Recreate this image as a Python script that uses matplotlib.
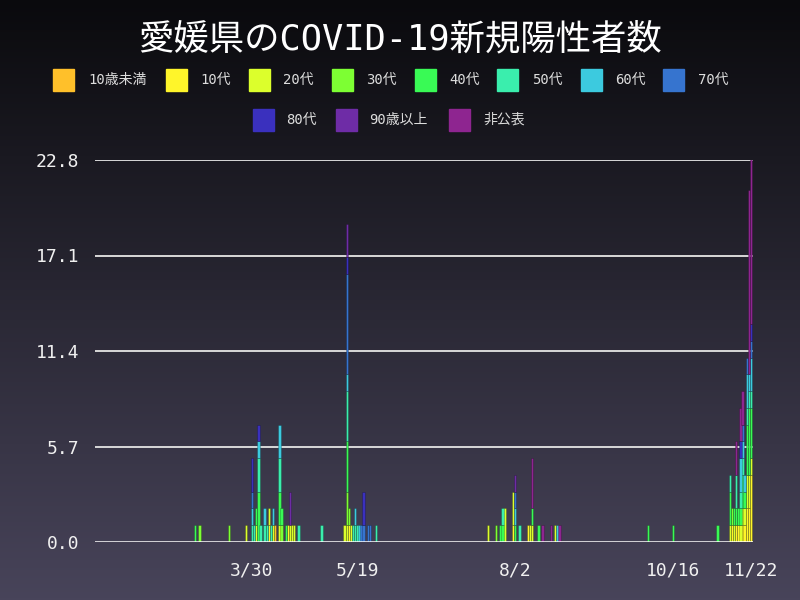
import numpy as np
import pandas as pd
import matplotlib
matplotlib.use('Agg')
import matplotlib.pyplot as plt
import matplotlib.dates as mdates
from matplotlib.patches import Rectangle

plt.rcParams['font.family'] = ['DejaVu Sans Mono', 'Noto Sans CJK JP']

title = '愛媛県のCOVID-19新規陽性者数'
categories = ['10歳未満', '10代', '20代', '30代', '40代', '50代', '60代', '70代', '80代', '90歳以上', '非公表']
colors = ['#FFC02A', '#FFF52A', '#DCFF2C', '#7DFF33', '#39FA55', '#3AEEAD',
          '#3CCADF', '#3674CF', '#3A30BE', '#6E2CA6', '#8E2590']

dates = ['03-03', '03-05', '03-19', '03-27', '03-30', '03-31', '04-01', '04-02', '04-03', '04-05',
         '04-06', '04-07', '04-08', '04-09', '04-10', '04-12', '04-13', '04-15', '04-16', '04-17',
         '04-18', '04-19', '04-21', '05-02', '05-13', '05-14', '05-15', '05-16', '05-17', '05-18',
         '05-19', '05-20', '05-21', '05-22', '05-24', '05-25', '05-28', '07-20', '07-24', '07-26',
         '07-27', '07-28', '08-01', '08-02', '08-04', '08-08', '08-09', '08-10', '08-13', '08-15',
         '08-19', '08-21', '08-22', '08-23', '10-04', '10-16', '11-06', '11-12', '11-13', '11-14',
         '11-15', '11-16', '11-17', '11-18', '11-19', '11-20', '11-21', '11-22']

age_u10 = [0,0,0,0,0,0,0,0,0,0, 0,0,0,0,1,0,0,0,0,0, 0,0,0,0,0,0,0,0,0,0,
           0,0,0,0,0,0,0,0,0,0, 0,0,0,0,0,0,0,0,0,0, 0,0,0,0,0,0,0,0,0,0, 0,0,0,0,0,0,0,0]
age_10s = [0,0,0,0,0,0,0,0,0,0, 0,1,0,0,0,0,0,0,1,0, 0,0,0,0,0,0,1,0,0,0,
           0,0,0,0,0,0,0,0,0,0, 0,0,1,0,0,1,0,0,0,0, 0,0,0,0,0,0,0,0,1,0, 1,1,0,1,1,2,2,4]
age_20s = [0,0,0,1,0,0,1,0,0,0, 0,1,0,1,0,1,0,0,0,1, 1,1,0,0,1,1,0,1,0,0,
           0,0,0,0,0,0,0,1,0,0, 0,2,2,0,0,0,1,1,0,0, 0,1,0,0,0,0,0,1,0,1, 0,0,1,1,1,2,2,1]
age_30s = [0,1,1,0,0,0,0,0,0,0, 0,0,0,0,0,0,1,0,0,0, 0,0,0,0,0,2,1,0,0,0,
           0,0,0,0,0,0,0,0,1,0, 0,0,0,0,0,0,0,0,0,0, 0,0,0,0,0,0,0,0,1,0, 0,0,0,0,0,0,0,0]
age_40s = [1,0,0,0,0,0,1,3,0,0, 0,0,0,0,0,2,1,1,0,0, 0,0,0,0,0,3,0,0,0,0,
           0,0,0,0,0,0,0,0,0,1, 1,0,0,1,0,0,0,1,1,0, 0,0,0,0,1,1,1,2,0,1, 1,1,1,2,1,3,4,3]
age_50s = [0,0,0,0,1,1,0,2,1,1, 1,0,1,0,0,2,0,0,0,0, 0,0,1,1,0,3,0,0,1,1,
           1,0,0,0,0,0,1,0,0,0, 1,0,0,0,1,0,0,0,0,0, 0,0,0,0,0,0,0,1,0,0, 2,0,1,1,0,1,1,1]
age_60s = [0,0,0,0,1,0,0,1,0,1, 0,0,0,1,0,2,0,0,0,0, 0,0,0,0,0,1,0,0,0,1,
           0,1,0,0,0,0,0,0,0,0, 0,0,0,1,0,0,0,0,0,0, 0,0,1,0,0,0,0,0,0,0, 0,0,2,1,1,2,1,2]
age_70s = [0,0,0,0,1,0,0,0,0,0, 0,0,0,0,0,0,0,0,0,0, 0,0,0,0,0,6,0,0,0,0,
           0,0,1,1,1,1,0,0,0,0, 0,0,0,1,0,0,0,0,0,0, 0,0,0,0,0,0,0,0,0,0, 0,0,0,1,0,1,0,1]
age_80s = [0,0,0,0,2,0,0,1,0,0, 0,0,0,0,0,0,0,0,0,0, 0,0,0,0,0,1,0,0,0,0,
           0,0,0,2,0,0,0,0,0,0, 0,0,0,0,0,0,0,0,0,0, 0,0,0,0,0,0,0,0,0,0, 0,0,1,0,0,0,0,1]
age_90p = [0,0,0,0,0,0,0,0,0,0, 0,0,0,0,0,0,0,0,0,2, 0,0,0,0,0,2,0,0,0,0,
           0,0,0,0,0,0,0,0,0,0, 0,0,0,1,0,0,0,0,0,0, 0,0,0,0,0,0,0,0,0,0, 0,0,0,0,0,0,0,0]
age_nd = [0,0,0,0,0,0,0,0,0,0, 0,0,0,0,0,0,0,0,0,0, 0,0,0,0,0,0,0,0,0,0,
          0,0,0,0,0,0,0,0,0,0, 0,0,0,0,0,0,0,3,0,1, 1,0,0,1,0,0,0,0,0,0, 2,0,2,2,0,0,11,10]

series = [age_u10, age_10s, age_20s, age_30s, age_40s, age_50s,
          age_60s, age_70s, age_80s, age_90p, age_nd]

y_ticks = [0.0, 5.7, 11.4, 17.1, 22.8]
x_tick_dates = ['2020-03-30', '2020-05-19', '2020-08-02', '2020-10-16', '2020-11-22']
x_tick_labels = ['3/30', '5/19', '8/2', '10/16', '11/22']

W, H = 800, 600
fig = plt.figure(figsize=(8, 6), dpi=100)

# background gradient
bg = fig.add_axes([0, 0, 1, 1], zorder=-10)
g = np.linspace(0, 1, 300).reshape(-1, 1, 1)
top_c = np.array([10, 10, 13]) / 255
bot_c = np.array([72, 68, 90]) / 255
img = top_c + (bot_c - top_c) * g
bg.imshow(np.repeat(img, 2, axis=1), aspect='auto', extent=[0, 1, 0, 1], origin='upper')
bg.set_axis_off()

ax = fig.add_axes([95 / W, (H - 542) / H, (753 - 95) / W, (542 - 160) / H])
ax.set_facecolor('none')

x = mdates.date2num(pd.to_datetime(['2020-' + d for d in dates]))
bottom = np.zeros(len(dates))
for name, vals, col in zip(categories, series, colors):
    v = np.array(vals, dtype=float)
    m = v > 0
    ax.bar(x[m], v[m], width=1.15, bottom=bottom[m], color=col,
           edgecolor=(0, 0, 0, 0.28), linewidth=0.5, zorder=3)
    bottom += v

for yt in y_ticks[1:]:
    ax.axhline(yt, color='#d8d8d8', lw=1.4, zorder=1)
ax.axhline(0, color='white', lw=1.8, zorder=4)

ax.set_ylim(0, 22.8)
ax.set_xlim(mdates.date2num(pd.Timestamp('2020-01-15')) + 0.4,
            mdates.date2num(pd.Timestamp('2020-11-22')) + 0.95)
ax.set_yticks(y_ticks)
ax.set_yticklabels([f'{t:.1f}' for t in y_ticks])
ax.set_xticks(mdates.date2num(pd.to_datetime(x_tick_dates)))
ax.set_xticklabels(x_tick_labels)
ax.tick_params(axis='both', length=0, labelsize=13, colors='#f0f0f0')
ax.tick_params(axis='y', pad=11.5)
ax.tick_params(axis='x', pad=14)
for s in ax.spines.values():
    s.set_visible(False)

# title
fig.text(0.5, 1 - 39 / H, title, ha='center', va='center', fontsize=25.5, color='white')

# legend (manual)
legend_layout = [
    (53, 88, 80), (166, 200, 80), (249, 283, 80), (332, 366, 80), (415, 449, 80),
    (497, 532, 80), (581, 615, 80), (663, 698, 80),
    (253, 286, 120), (336, 369, 120), (449, 483, 120),
]
for (bx, tx, cy), name, col in zip(legend_layout, categories, colors):
    fig.add_artist(Rectangle((bx / W, (H - cy - 11) / H), 21 / W, 22 / H,
                             transform=fig.transFigure, color=col))
    fig.text(tx / W, (H - cy) / H, name, ha='left', va='center',
             fontsize=10, color='#dddddd')

fig.savefig('out.png', dpi=100)
